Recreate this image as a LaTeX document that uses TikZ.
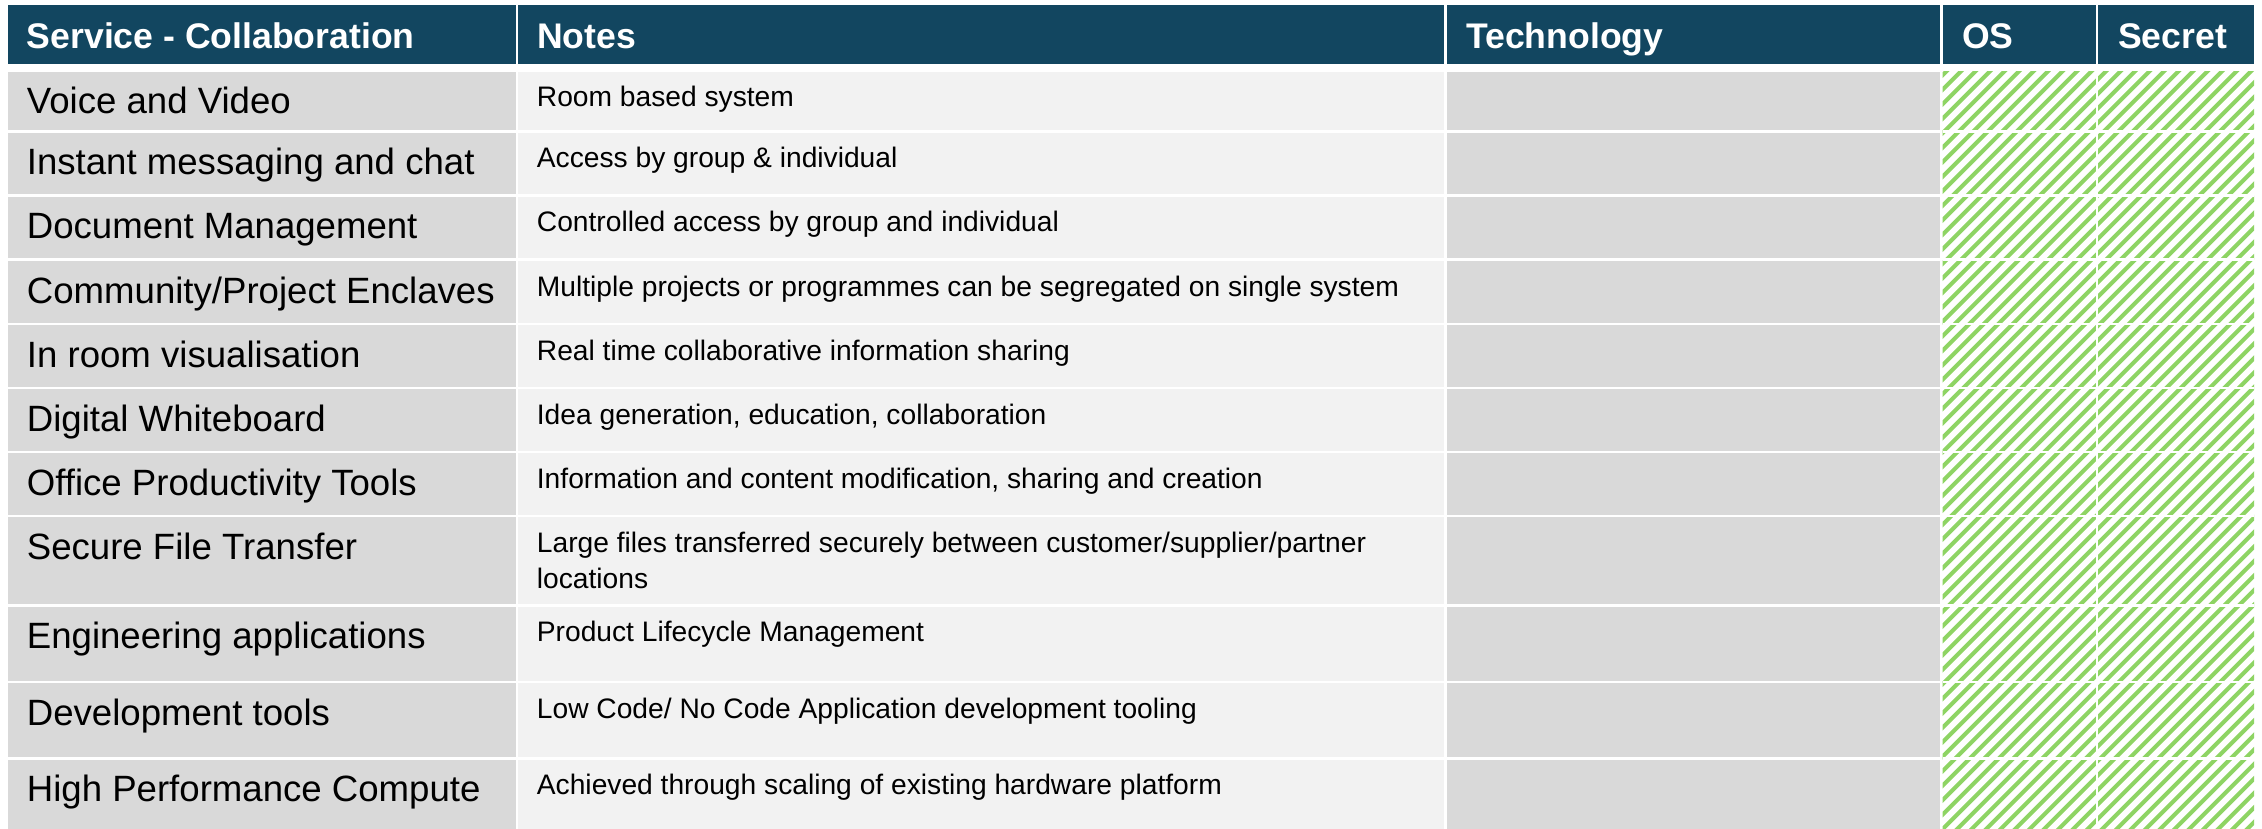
\documentclass[tikz,border=0pt]{standalone}
\usepackage{fontspec}
\setmainfont{Liberation Sans}
\definecolor{hdr}{RGB}{18,70,96}
\definecolor{cgray}{RGB}{217,217,217}
\definecolor{clight}{RGB}{242,242,242}
\definecolor{hgreen}{RGB}{142,212,100}
\begin{document}
\begin{tikzpicture}[x=1pt,y=-1pt,
  hdrtext/.style={anchor=base west,inner sep=0pt,text=white,font=\fontsize{35.6}{42}\selectfont\bfseries},
  svc/.style={anchor=base west,inner sep=0pt,text=black,font=\fontsize{36.6}{43}\selectfont},
  note/.style={anchor=base west,inner sep=0pt,text=black,font=\fontsize{28.2}{34}\selectfont},
  hatchline/.style={draw=hgreen,line width=4.2pt}]
\useasboundingbox (0,0) rectangle (2262,829);
\fill[white] (0,0) rectangle (2262,829);
% header cells
\foreach \l/\r in {8.3/515.5,518/1444,1446.7/1940,1942.7/2095.7,2098.3/2254}
  \fill[hdr] (\l,5) rectangle (\r,64);
% body cells
\foreach \t/\b in {71.7/130,132.7/194,196.7/258,261/322.7,325/386.7,389/450.7,453.3/515,517.3/604,606.7/680.7,683.3/757.3,759.7/829}{
  \fill[cgray] (8.3,\t) rectangle (515.5,\b);
  \fill[clight] (518,\t) rectangle (1444,\b);
  \fill[cgray] (1446.7,\t) rectangle (1940,\b);
}
% hatched OS / Secret cells
\begin{scope}
  \clip (1942.7,71.7) rectangle (2254,829);
  \foreach \k in {0,...,76}
    \draw[hatchline] ({1182.7+\k*14.5},835) -- ++(770,-770);
\end{scope}
\fill[white] (2095.7,71.7) rectangle (2098.3,829);
\foreach \b/\t in {130/132.7,194/196.7,258/261,322.7/325,386.7/389,450.7/453.3,515/517.3,604/606.7,680.7/683.3,757.3/759.7}
  \fill[white] (1942.7,\b) rectangle (2254,\t);
% header text
\node[hdrtext] (h1) at (26.7,49) {Service - Collaboration};
\node[hdrtext] (h2) at (537,49) {Notes};
\node[hdrtext] (h3) at (1466,49) {Technology};
\node[hdrtext] (h4) at (1962,49) {OS};
\node[hdrtext] (h5) at (2118,49) {Secret};
% services
\node[svc] (s1) at (26.7,113.7) {Voice and Video};
\node[svc] (s2) at (26.7,174.7) {Instant messaging and chat};
\node[svc] (s3) at (26.7,238.7) {Document Management};
\node[svc] (s4) at (26.7,303) {Community/Project Enclaves};
\node[svc] (s5) at (26.7,367) {In room visualisation};
\node[svc] (s6) at (26.7,431) {Digital Whiteboard};
\node[svc] (s7) at (26.7,495.3) {Office Productivity Tools};
\node[svc] (s8) at (26.7,559.3) {Secure File Transfer};
\node[svc] (s9) at (26.7,648.7) {Engineering applications};
\node[svc] (s10) at (26.7,725.3) {Development tools};
\node[svc] (s11) at (26.7,801.7) {High Performance Compute};
% notes
\node[note] (n1) at (536.7,106.7) {Room based system};
\node[note] (n2) at (536.7,167.7) {Access by group \& individual};
\node[note] (n3) at (536.7,231.7) {Controlled access by group and individual};
\node[note] (n4) at (536.7,296) {Multiple projects or programmes can be segregated on single system};
\node[note] (n5) at (536.7,360) {Real time collaborative information sharing};
\node[note] (n6) at (536.7,424) {Idea generation, education, collaboration};
\node[note] (n7) at (536.7,488.3) {Information and content modification, sharing and creation};
\node[note] (n8a) at (536.7,552.7) {Large files transferred securely between customer/supplier/partner};
\node[note] (n8b) at (536.7,588.3) {locations};
\node[note] (n9) at (536.7,641.7) {Product Lifecycle Management};
\node[note] (n10) at (536.7,718.3) {Low Code/ No Code Application development tooling};
\node[note] (n11) at (536.7,794.7) {Achieved through scaling of existing hardware platform};
\end{tikzpicture}
\end{document}
